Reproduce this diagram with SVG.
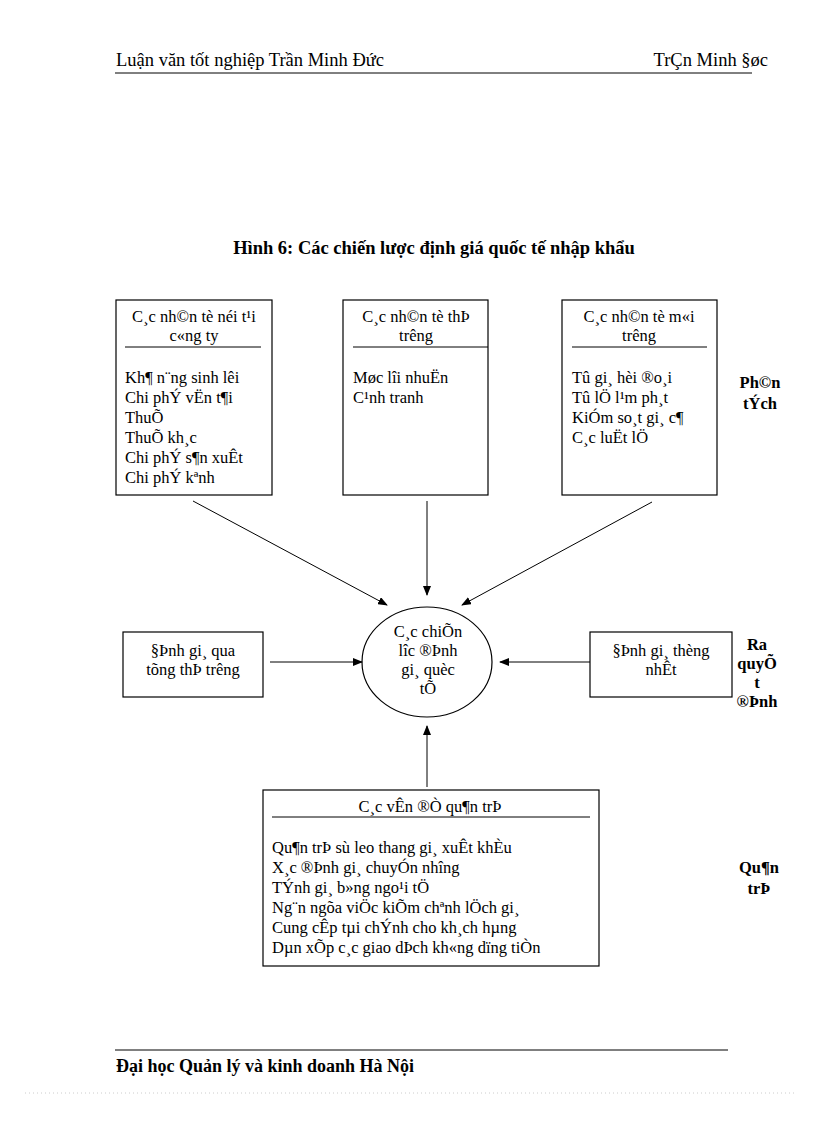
<svg xmlns="http://www.w3.org/2000/svg" width="816" height="1123" viewBox="0 0 816 1123">
<defs>
<marker id="ah" markerWidth="10" markerHeight="8" refX="9" refY="4" orient="auto" markerUnits="userSpaceOnUse"><path d="M0,0 L10,4 L0,8 z" fill="#000"/></marker>
<style>
text{font-family:"Liberation Serif","Times New Roman",serif;font-size:16.5px;fill:#000}
.b{font-weight:bold}
.c{text-anchor:middle}
rect,ellipse{fill:#fff;stroke:#000;stroke-width:1.2}
line{stroke:#000;stroke-width:1}
</style>
</defs>
<rect width="816" height="1123" fill="#fff" style="stroke:none"/>
<text x="116" y="66" style="font-size:18.5px">Luận văn tốt nghiệp  Trần Minh Đức</text>
<text x="768" y="66" style="font-size:18.5px;text-anchor:end">TrÇn Minh §øc</text>
<line x1="115" y1="73" x2="752" y2="73"/>
<text x="434" y="254" class="b c" style="font-size:18.5px">Hình 6: Các chiến lược định giá quốc tế nhập khẩu</text>
<g id="n1"><rect x="116" y="300" width="156" height="195"/>
<text x="194" y="322" class="c">C¸c nh©n tè néi t¹i</text><text x="194" y="341" class="c">c«ng ty</text>
<line x1="125" y1="347" x2="261" y2="347"/>
<text x="125" y="383">Kh¶ n¨ng sinh lêi</text><text x="125" y="403">Chi phÝ  vËn t¶i</text><text x="125" y="423">ThuÕ</text><text x="125" y="443">ThuÕ  kh¸c</text><text x="125" y="463">Chi phÝ  s¶n xuÊt</text><text x="125" y="483">Chi phÝ  kªnh</text></g>
<g id="n2"><rect x="343" y="300" width="145" height="195"/>
<text x="416" y="322" class="c">C¸c nh©n tè thÞ</text><text x="416" y="341" class="c">trêng</text>
<line x1="353" y1="347" x2="488" y2="347"/>
<text x="353" y="383">Møc lîi nhuËn</text><text x="353" y="403">C¹nh tranh</text></g>
<g id="n3"><rect x="562" y="300" width="155" height="195"/>
<text x="639" y="322" class="c">C¸c nh©n tè m«i</text><text x="639" y="341" class="c">trêng</text>
<line x1="572" y1="347" x2="707" y2="347"/>
<text x="572" y="383">Tû gi¸ hèi ®o¸i</text><text x="572" y="403">Tû lÖ l¹m ph¸t</text><text x="572" y="423">KiÓm so¸t gi¸ c¶</text><text x="572" y="443">C¸c luËt lÖ</text></g>
<g id="l1"><text x="760" y="388" class="b c">Ph©n</text><text x="760" y="409" class="b c">tÝch</text></g>
<g id="center"><ellipse cx="427" cy="662" rx="65" ry="55"/>
<text x="428" y="637" class="c">C¸c chiÕn</text><text x="428" y="656" class="c">lîc  ®Þnh</text><text x="428" y="675" class="c">gi¸ quèc</text><text x="428" y="694" class="c">tÕ</text></g>
<g id="n4"><rect x="123" y="632" width="140" height="65"/>
<text x="193" y="656" class="c">§Þnh gi¸ qua</text><text x="193" y="675" class="c">tõng thÞ trêng</text></g>
<g id="n5"><rect x="590" y="632" width="142" height="65"/>
<text x="661" y="656" class="c">§Þnh gi¸ thèng</text><text x="661" y="675" class="c">nhÊt</text></g>
<g id="l2"><text x="757" y="650" class="b c">Ra</text><text x="757" y="669" class="b c">quyÕ</text><text x="757" y="688" class="b c">t</text><text x="757" y="707" class="b c">®Þnh</text></g>
<g id="n6"><rect x="263" y="790" width="336" height="176"/>
<text x="430" y="812" class="c">C¸c vÊn  ®Ò  qu¶n trÞ</text>
<line x1="272" y1="817" x2="590" y2="817"/>
<text x="272" y="853">Qu¶n trÞ sù leo thang gi¸ xuÊt khÈu</text><text x="272" y="873">X¸c  ®Þnh gi¸ chuyÓn nhîng</text><text x="272" y="893">TÝnh  gi¸ b»ng ngo¹i tÖ</text><text x="272" y="913">Ng¨n ngõa viÖc kiÕm chªnh lÖch gi¸</text><text x="272" y="933">Cung cÊp tµi chÝnh  cho kh¸ch  hµng</text><text x="272" y="953">Dµn xÕp c¸c giao dÞch kh«ng dïng tiÒn</text></g>
<g id="l3"><text x="759" y="873" class="b c">Qu¶n</text><text x="759" y="894" class="b c">trÞ</text></g>
<g id="connectors">
<line x1="193" y1="501" x2="387" y2="605" marker-end="url(#ah)"/>
<line x1="427" y1="501" x2="427" y2="595" marker-end="url(#ah)"/>
<line x1="652" y1="502" x2="462" y2="605" marker-end="url(#ah)"/>
<line x1="270" y1="662" x2="362" y2="662" marker-end="url(#ah)"/>
<line x1="590" y1="662" x2="500" y2="662" marker-end="url(#ah)"/>
<line x1="427" y1="787" x2="427" y2="726" marker-end="url(#ah)"/>
</g>
<line x1="115" y1="1050" x2="728" y2="1050"/>
<text x="116" y="1072" class="b" style="font-size:18px">Đại học Quản lý và kinh  doanh Hà Nội</text>
<line x1="25" y1="1093" x2="795" y2="1093" style="stroke:#ccc;stroke-dasharray:1 3"/>
</svg>
